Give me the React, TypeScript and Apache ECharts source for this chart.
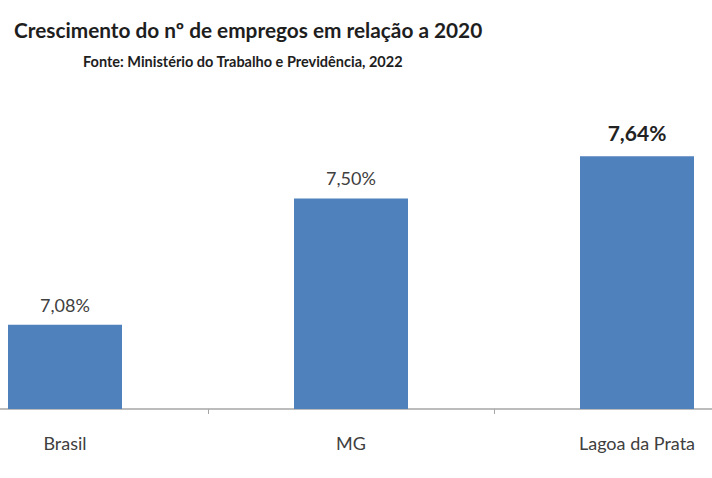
import React, { useEffect, useRef } from "react";
import * as echarts from "echarts";

const categories = ["Brasil", "MG", "Lagoa da Prata"];
const values = [7.08, 7.5, 7.64];
const titleText = "Crescimento do nº de empregos em relação a 2020";
const subtitleText = "Fonte: Ministério do Trabalho e Previdência, 2022";

const FONT = "Lato, 'Open Sans', sans-serif";

export default function App() {
  const ref = useRef<HTMLDivElement>(null);
  useEffect(() => {
    if (!ref.current) return;
    const chart = echarts.init(ref.current, null, { renderer: "svg" });
    const data = values.map((v, i) => {
      const last = i === values.length - 1;
      return {
        value: v,
        label: {
          fontSize: last ? 21 : 18,
          fontWeight: last ? "bold" : "normal",
          color: last ? "#222222" : "#404040",
          distance: last ? 13 : 11,
        },
      };
    });
    chart.setOption({
      animation: false,
      backgroundColor: "#ffffff",
      title: [
        {
          text: titleText,
          left: 9,
          top: 14,
          textStyle: { fontFamily: FONT, fontSize: 20.8, fontWeight: "bold", color: "#1e1e1e" },
        },
        {
          text: subtitleText,
          left: 78,
          top: 49,
          textStyle: { fontFamily: FONT, fontSize: 14.5, fontWeight: "bold", color: "#1e1e1e" },
        },
      ],
      grid: { left: -78, right: -68, top: 48, bottom: 69, outerBoundsMode: "none", containLabel: false },
      xAxis: {
        type: "category",
        data: categories,
        axisLine: { show: true, lineStyle: { color: "#a6a6a6", width: 1.5 } },
        axisTick: { show: true, alignWithLabel: false, length: 5, lineStyle: { color: "#a6a6a6" } },
        axisLabel: { margin: 25, fontSize: 18, color: "#404040", fontFamily: FONT },
      },
      yAxis: {
        type: "value",
        min: 6.8,
        max: 8.0,
        show: false,
        splitLine: { show: false },
      },
      series: [
        {
          type: "bar",
          data,
          barWidth: 114,
          itemStyle: { color: "#4F81BD" },
          label: {
            show: true,
            position: "top",
            fontFamily: FONT,
            formatter: (p: any) => p.value.toFixed(2).replace(".", ",") + "%",
          },
        },
      ],
    });
    return () => chart.dispose();
  }, []);
  return (
    <div
      ref={ref}
      style={{ position: "fixed", left: 0, top: 0, width: 712, height: 478 }}
    />
  );
}
